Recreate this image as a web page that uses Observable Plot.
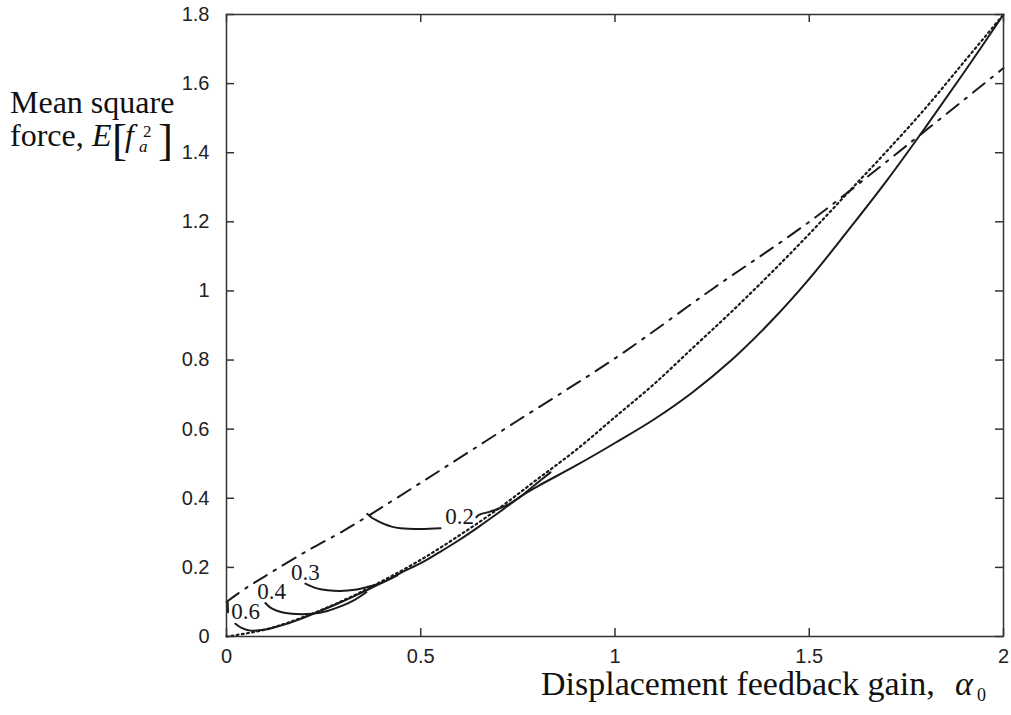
<!DOCTYPE html>
<html><head><meta charset="utf-8">
<script src="https://cdn.jsdelivr.net/npm/d3@7"></script>
<script src="https://cdn.jsdelivr.net/npm/@observablehq/plot@0.6"></script>
<style>
body{margin:0;background:#fff;}
#chart{width:1011px;height:715px;}
</style></head><body><div id="chart"></div>
<script>
// ---- data ----
const xTicks = [0, 0.5, 1, 1.5, 2];
const yTicks = [0, 0.2, 0.4, 0.6, 0.8, 1, 1.2, 1.4, 1.6, 1.8];

// dash-dot curve
const dashDotX = [0, 0.05, 0.1, 0.2, 0.3, 0.366, 0.5, 0.75, 1.0, 1.25, 1.5, 1.75, 2.0];
const dashDotY = [0.1, 0.14, 0.175, 0.243, 0.305, 0.35, 0.445, 0.625, 0.805, 1.005, 1.2, 1.42, 1.645];

// dotted curve
const dottedX = [0, 0.1, 0.2, 0.3, 0.4, 0.5, 0.6, 0.7, 0.8, 0.9, 1.0, 1.1, 1.2, 1.3, 1.4, 1.5, 1.6, 1.7, 1.8, 1.9, 2.0];
const dottedY = [0, 0.02, 0.057, 0.104, 0.16, 0.222, 0.293, 0.37, 0.455, 0.54, 0.635, 0.73, 0.835, 0.94, 1.05, 1.165, 1.285, 1.405, 1.53, 1.665, 1.8];

// solid: 0.6 level start piece (before its label)
const c06aX = [0.003, 0.004];
const c06aY = [0.1, 0.07];
// solid: 0.6 level continuing into the main solid curve
const mainX = [0.023, 0.04, 0.062, 0.1, 0.15, 0.2, 0.25, 0.3, 0.35, 0.4, 0.45, 0.5, 0.55, 0.6, 0.65, 0.7, 0.757, 0.8, 0.9, 1.0, 1.1, 1.2, 1.3, 1.4, 1.5, 1.6, 1.7, 1.8, 1.9, 2.0];
const mainY = [0.037, 0.024, 0.017, 0.02, 0.035, 0.055, 0.078, 0.102, 0.128, 0.155, 0.185, 0.212, 0.245, 0.28, 0.318, 0.358, 0.405, 0.434, 0.495, 0.56, 0.628, 0.707, 0.8, 0.91, 1.035, 1.175, 1.32, 1.475, 1.635, 1.8];
// solid: 0.4 level
const c04X = [0.1, 0.115, 0.14, 0.18, 0.22, 0.26, 0.3, 0.33, 0.36];
const c04Y = [0.097, 0.082, 0.071, 0.065, 0.066, 0.074, 0.09, 0.106, 0.128];
// solid: 0.3 level
const c03X = [0.203, 0.23, 0.26, 0.293, 0.33, 0.362, 0.39, 0.414, 0.44];
const c03Y = [0.153, 0.14, 0.134, 0.132, 0.135, 0.143, 0.152, 0.163, 0.177];
// solid: 0.2 level, two pieces split by its label
const c02aX = [0.362, 0.375, 0.39, 0.405, 0.425, 0.448, 0.5, 0.551];
const c02aY = [0.355, 0.343, 0.334, 0.326, 0.318, 0.313, 0.311, 0.313];
const c02bX = [0.643, 0.65, 0.68, 0.722, 0.757, 0.795, 0.834];
const c02bY = [0.345, 0.352, 0.362, 0.38, 0.405, 0.44, 0.475];

// contour labels
const labelText = ["0.6", "0.4", "0.3", "0.2"];
const labelX = [0.049, 0.116, 0.203, 0.6];
const labelY = [0.072, 0.13, 0.185, 0.347];

// ---- build tables ----
const pts = (xs, ys) => xs.map((x, i) => ({x, y: ys[i]}));
const labels = labelText.map((t, i) => ({t, x: labelX[i], y: labelY[i]}));

const W = 1011, H = 715;
const mL = 226, mR = 8, mT = 14, mB = 79;
const pW = W - mL - mR, pH = H - mT - mB;
const ink = "#1a1a1a";
const axisInk = "#333";
const serif = "'Liberation Serif', 'Times New Roman', serif";
const sans = "'Liberation Sans', Arial, sans-serif";

const solid = {x: "x", y: "y", stroke: ink, strokeWidth: 2, curve: "catmull-rom"};

const chart = Plot.plot({
  width: W, height: H,
  marginLeft: mL, marginRight: mR, marginTop: mT, marginBottom: mB,
  x: {domain: [0, 2]},
  y: {domain: [0, 1.8]},
  style: {fontFamily: sans, fontSize: "20px", background: "#fff", color: "#222", overflow: "visible"},
  marks: [
    Plot.axisX(xTicks, {tickSize: 0, tickPadding: 12, label: null, tickFormat: d => String(d), fontSize: 20}),
    Plot.axisY(yTicks, {tickSize: 0, tickPadding: 17, label: null, tickFormat: d => String(d), fontSize: 20}),
    // inward ticks on all four sides
    Plot.tickX(xTicks, {x: d => d, insetTop: pH - 8, stroke: axisInk, strokeWidth: 1.5}),
    Plot.tickX(xTicks, {x: d => d, insetBottom: pH - 8, stroke: axisInk, strokeWidth: 1.5}),
    Plot.tickY(yTicks, {y: d => d, insetRight: pW - 8, stroke: axisInk, strokeWidth: 1.5}),
    Plot.tickY(yTicks, {y: d => d, insetLeft: pW - 8, stroke: axisInk, strokeWidth: 1.5}),
    Plot.line(pts(dottedX, dottedY), {x: "x", y: "y", stroke: ink, strokeWidth: 2.2, strokeDasharray: "1.8,3.4", curve: "catmull-rom"}),
    Plot.line(pts(dashDotX, dashDotY), {x: "x", y: "y", stroke: ink, strokeWidth: 2, strokeDasharray: "15,8,2.5,8", curve: "catmull-rom"}),
    Plot.line(pts(c06aX, c06aY), solid),
    Plot.line(pts(mainX, mainY), solid),
    Plot.line(pts(c04X, c04Y), solid),
    Plot.line(pts(c03X, c03Y), solid),
    Plot.line(pts(c02aX, c02aY), solid),
    Plot.line(pts(c02bX, c02bY), solid),
    Plot.text(labels, {x: "x", y: "y", text: "t", fontFamily: serif, fontSize: 23, fill: ink}),
    Plot.frame({stroke: axisInk, strokeWidth: 1.5})
  ]
});
document.getElementById("chart").appendChild(chart);

// ---- axis titles (real text) ----
const svg = d3.select(chart);
const t = (x, y, str, opts = {}) => svg.append("text")
  .attr("x", x).attr("y", y)
  .attr("text-anchor", "start")
  .attr("font-family", serif)
  .attr("font-size", opts.size || 32)
  .attr("font-style", opts.italic ? "italic" : "normal")
  .attr("fill", "#111")
  .text(str);

t(10, 113, "Mean square");
t(10, 146, "force,");
t(92, 146, "E", {italic: true});
t(112, 155, "[", {size: 45});
t(125, 146, "f", {italic: true});
t(143, 137, "2", {size: 17});
t(139, 152, "a", {size: 17, italic: true});
t(158, 155, "]", {size: 45});

t(541, 695, "Displacement feedback gain,", {size: 34});
t(955, 695, "\u03B1", {size: 34, italic: true});
t(977, 701, "0", {size: 18});
</script>
</body></html>
